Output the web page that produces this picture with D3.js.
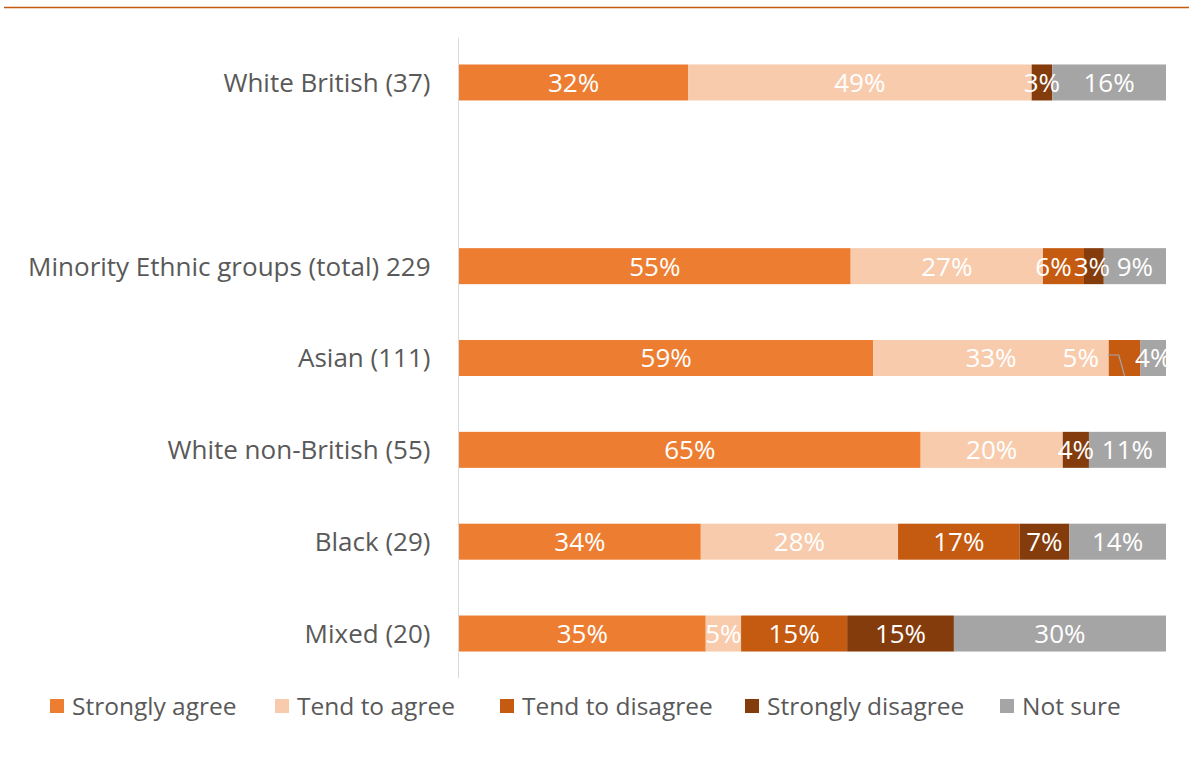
<!DOCTYPE html>
<html><head><meta charset="utf-8">
<script src="https://cdn.jsdelivr.net/npm/d3@7"></script>
<style>body{margin:0;background:#fff;}svg{display:block;font-family:"Open Sans",sans-serif;}</style>
</head><body>
<svg id="chart" width="1189" height="769"></svg>
<script>
const categories = ["White British (37)", "", "Minority Ethnic groups (total) 229", "Asian (111)", "White non-British (55)", "Black (29)", "Mixed (20)"];
const seriesNames = ["Strongly agree", "Tend to agree", "Tend to disagree", "Strongly disagree", "Not sure"];
const colors = ["#ED7D31", "#F8CBAD", "#C55A11", "#843C0C", "#A5A5A5"];
const stronglyAgree   = [32.4, null, 55.4, 58.6, 65.3, 34.2, 34.9];
const tendToAgree     = [48.6, null, 27.2, 33.3, 20.1, 27.9, 5.0];
const tendToDisagree  = [0,    null, 5.8,  4.5,  0,    17.2, 15.0];
const stronglyDisagree= [2.9,  null, 2.8,  0,    3.7,  7.0,  15.1];
const notSure         = [16.1, null, 8.8,  3.6,  10.9, 13.7, 30.0];
const series = [stronglyAgree, tendToAgree, tendToDisagree, stronglyDisagree, notSure];

const FONT = "'Open Sans',sans-serif";
const svg = d3.select("#chart");
const x = d3.scaleLinear().domain([0, 100]).range([459, 1166]);
const y = d3.scaleBand().domain(categories).range([36, 680]).paddingInner(0.608).paddingOuter(0.31);

// top rule
svg.append("line").attr("x1", 4).attr("x2", 1189).attr("y1", 7.5).attr("y2", 7.5)
  .attr("stroke", "#C55A11").attr("stroke-width", 1.5);

svg.append("defs").append("clipPath").attr("id", "plot")
  .append("rect").attr("x", 459).attr("y", 30).attr("width", 707).attr("height", 660);

const segs = [];
categories.forEach((c, i) => {
  if (!c) return;
  let cum = 0;
  series.forEach((s, k) => {
    const v = s[i];
    segs.push({cat: c, k, v, x0: cum, x1: cum + v});
    cum += v;
  });
});

const g = svg.append("g");
g.selectAll("rect").data(segs.filter(d => d.v > 0)).join("rect")
  .attr("x", d => x(d.x0)).attr("width", d => x(d.x1) - x(d.x0))
  .attr("y", d => y(d.cat)).attr("height", y.bandwidth())
  .attr("fill", d => colors[d.k]);

// y axis
const yAxis = d3.axisLeft(y).tickSize(0).tickPadding(28);
const ax = svg.append("g").attr("transform", "translate(458.5,0)").call(yAxis);
ax.select(".domain").attr("stroke", "#D9D9D9").attr("d", "M0,38V678");
ax.selectAll("text").attr("font-size", 26).attr("fill", "#595959")
  .attr("font-family", FONT).attr("dy", "0.36em");

// labels (small nudges where neighbouring labels would collide)
const nudges = {"Minority Ethnic groups (total) 229|2": -10, "Minority Ethnic groups (total) 229|3": -2};
const lab = svg.append("g").attr("clip-path", "url(#plot)");
segs.filter(d => d.v > 0).forEach(d => {
  let cx = (x(d.x0) + x(d.x1)) / 2 + (nudges[d.cat + "|" + d.k] || 0);
  const cy = y(d.cat) + y.bandwidth() / 2;
  if (d.cat === "Asian (111)" && d.k === 2) {
    cx = x(d.x0) - 28;
    lab.append("path")
      .attr("d", `M${cx + 27},${cy - 3}H${cx + 38}L${(x(d.x0) + x(d.x1)) / 2},${y(d.cat) + y.bandwidth()}`)
      .attr("fill", "none").attr("stroke", "#A5A5A5").attr("stroke-width", 1.2);
  }
  lab.append("text").attr("x", cx).attr("y", cy).attr("dy", "0.36em")
    .attr("text-anchor", "middle").attr("fill", "#fff").attr("font-size", 26)
    .attr("font-family", FONT)
    .text(Math.round(d.v) + "%");
});

// legend
const legX = [50, 275, 500, 745, 1000];
const leg = svg.append("g");
seriesNames.forEach((n, i) => {
  leg.append("rect").attr("x", legX[i]).attr("y", 699).attr("width", 14).attr("height", 14).attr("fill", colors[i]);
  leg.append("text").attr("x", legX[i] + 22).attr("y", 706).attr("dy", "0.36em")
    .attr("font-size", 24.5).attr("fill", "#595959").attr("font-family", FONT).text(n);
});
</script>
</body></html>
